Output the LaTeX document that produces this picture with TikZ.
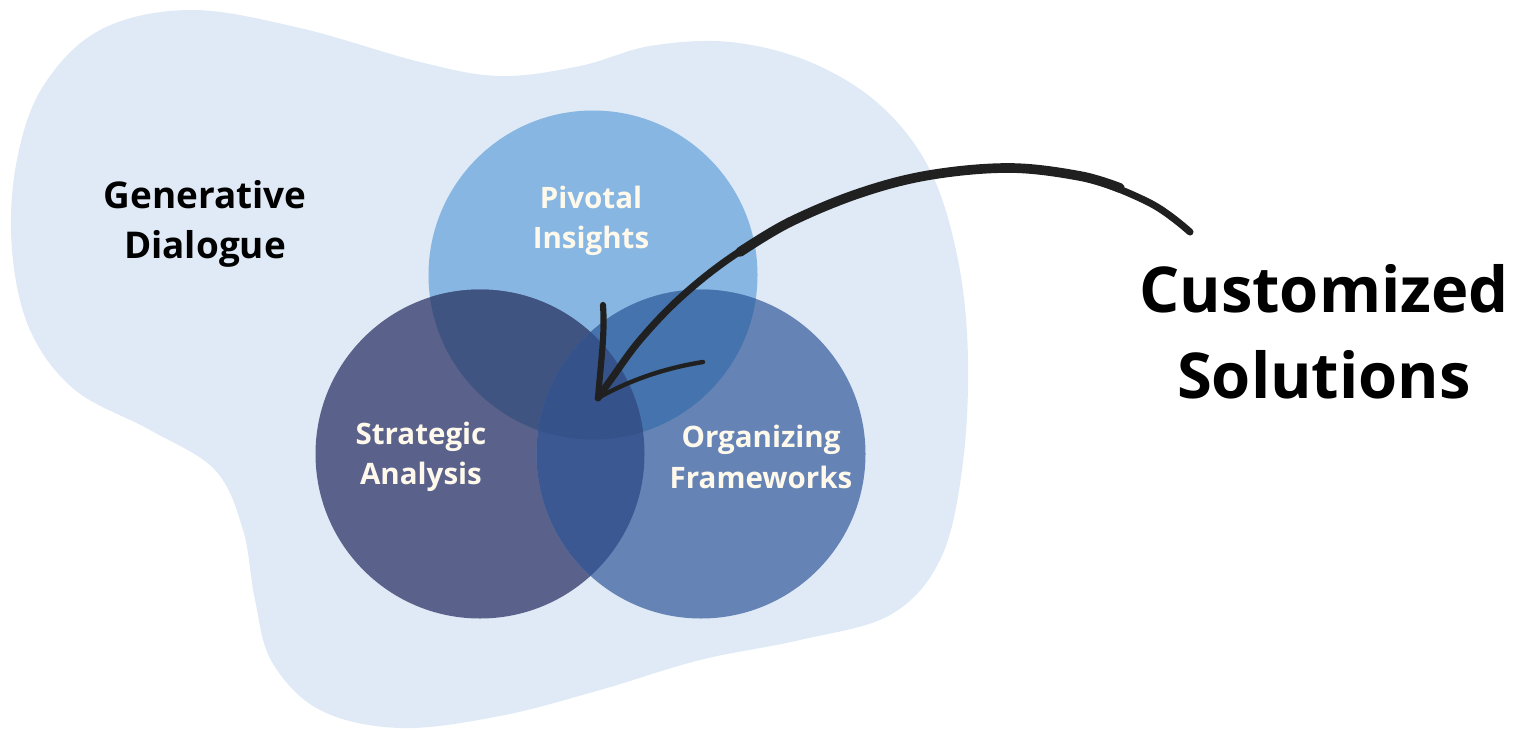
\documentclass[tikz,border=0pt]{standalone}
\usepackage{fontspec}
\setmainfont{Open Sans}
\definecolor{blob}{HTML}{DFEAF6}
\definecolor{pcol}{HTML}{86B6E1}
\definecolor{scol}{HTML}{5A628B}
\definecolor{ocol}{HTML}{6584B5}
\definecolor{spcol}{HTML}{3F5481}
\definecolor{opcol}{HTML}{4573AD}
\definecolor{socol}{HTML}{3B5892}
\definecolor{spocol}{HTML}{36528B}
\definecolor{cream}{HTML}{FFF9EC}
\definecolor{ink}{HTML}{202020}
\tikzset{
  lbl/.style={align=center, text=cream, font=\fontsize{16.8}{23}\selectfont\bfseries},
  big/.style={align=center, text=black, font=\fontsize{36}{49}\selectfont\bfseries},
  mid/.style={align=center, text=black, font=\fontsize{21}{28}\selectfont\bfseries},
  brush/.style={draw=ink, line cap=round, line join=round}
}
\begin{document}
\begin{tikzpicture}[x=0.02cm,y=-0.02cm]
\useasboundingbox (0,0) rectangle (1514,730);
% blob
\fill[blob] plot[smooth cycle, tension=0.6] coordinates {
 (190,10) (300,28) (420,62) (500,76) (580,66) (650,46) (730,42) (810,62) (880,105)
 (930,170) (958,260) (968,360) (962,470) (940,560) (890,615) (800,640) (700,660)
 (600,690) (500,716) (400,728) (320,710) (272,662) (255,600) (243,530) (215,470)
 (150,430) (75,390) (30,330) (12,250) (16,165) (42,88) (100,30)};
% circles
\coordinate (PC) at (593,275);
\coordinate (SC) at (480,454);
\coordinate (OC) at (701,454);
\fill[pcol] (PC) circle (164.5);
\fill[scol] (SC) circle (164.5);
\fill[ocol] (OC) circle (164.5);
\begin{scope}\clip (PC) circle (164.5); \fill[spcol] (SC) circle (164.5); \fill[opcol] (OC) circle (164.5); \end{scope}
\begin{scope}\clip (SC) circle (164.5); \fill[socol] (OC) circle (164.5);
  \clip (OC) circle (164.5); \fill[spocol] (PC) circle (164.5); \end{scope}
% labels
\node[lbl] (P) at (591,221) {Pivotal\\Insights};
\node[lbl] (S) at (421,457) {Strategic\\Analysis};
\node[lbl] (O) at (761,457) {Organizing\\Frameworks};
\node[mid] (G) at (205,224) {Generative\\Dialogue};
\node[big] (C) at (1324,332) {Customized\\Solutions};
% arrow
\coordinate (tail) at (1190,232);
\coordinate (tip) at (598,398);
\coordinate (hl) at (603,305);
\coordinate (hr) at (703,362);
\draw[brush, line width=4pt] plot[smooth, tension=0.6] coordinates {
 (tail) (1150,203) (1080,176) (1010,168) (930,175) (860,193) (790,222) (730,258) (680,298) (640,340) (612,378) (tip)};
\draw[brush, line width=5.5pt] plot[smooth, tension=0.6] coordinates {
 (1120,188) (1080,176) (1010,168) (930,175) (860,193) (790,222) (740,252)};
\draw[brush, line width=3.5pt] (tip) .. controls (601,360) and (605,335) .. (hl);
\draw[brush, line width=2.5pt] (tip) .. controls (630,380) and (665,368) .. (hr);
\end{tikzpicture}
\end{document}
